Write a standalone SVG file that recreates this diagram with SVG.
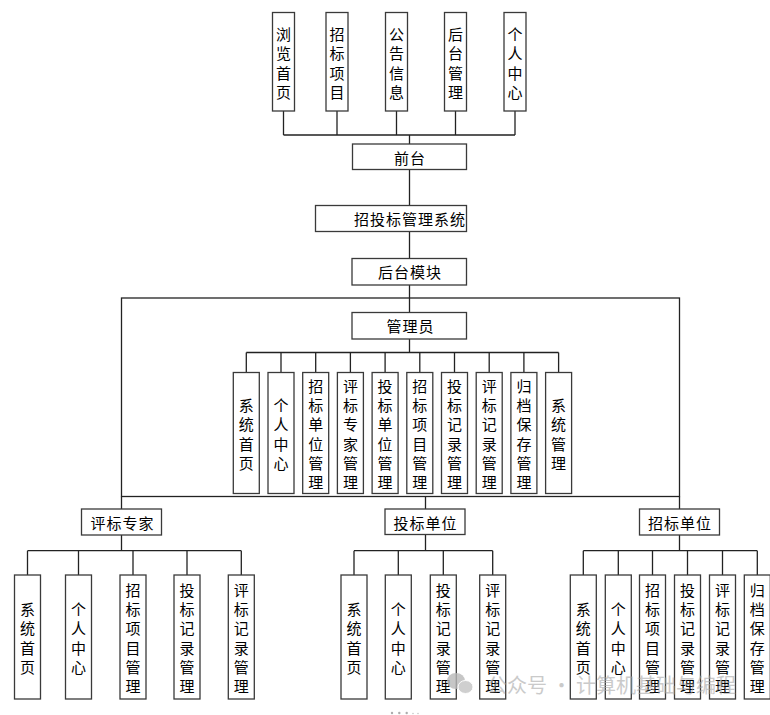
<svg xmlns="http://www.w3.org/2000/svg" width="770" height="715" viewBox="0 0 770 715">
<style>
.box{fill:#fff;stroke:#3a3a3a;stroke-width:1.3}
.lbl{font-family:"Noto Sans CJK SC","Noto Sans",sans-serif;font-size:15px;fill:#000;text-anchor:middle;dominant-baseline:central}
.h{letter-spacing:1px}
.conn{stroke:#222;stroke-width:1.3;fill:none}
.wm{font-family:"Noto Sans CJK SC","Noto Sans",sans-serif;font-size:20px;fill:#a8a8a8;opacity:0.75;dominant-baseline:central}
</style>
<rect width="770" height="715" fill="#fff"/>
<g id="connectors">
<path class="conn" d="M283.5 111V135M337 111V135M396.5 111V135M455.5 111V135M515 111V135M283.5 135H515M409.5 135V144"/>
<path class="conn" d="M409.5 169.5V205.5M409.5 231.5V258.5M409.5 285V298"/>
<rect class="conn" x="121.5" y="298" width="558" height="198.5"/>
<path class="conn" d="M409.5 298V312.5M409.5 339V352.5M246.3 352.5H558.6"/>
<path class="conn" d="M246.3 352.5V372.5M281 352.5V372.5M315.7 352.5V372.5M350.4 352.5V372.5M385.1 352.5V372.5M419.8 352.5V372.5M454.5 352.5V372.5M489.2 352.5V372.5M523.9 352.5V372.5M558.6 352.5V372.5"/>
<path class="conn" d="M121.5 496.5V509M425.5 496.5V509M679.5 496.5V509"/>
<path class="conn" d="M121.5 535V550.7M27.5 550.7H241.3M27.5 550.7V575M78.5 550.7V575M133 550.7V575M187 550.7V575M241.3 550.7V575"/>
<path class="conn" d="M425.5 534.5V550.7M354 550.7H492.7M354 550.7V575M398.3 550.7V575M443.3 550.7V575M492.7 550.7V575"/>
<path class="conn" d="M679.5 535V550.7M583.3 550.7H757.3M583.3 550.7V575M618.3 550.7V575M652.5 550.7V575M687.5 550.7V575M722.5 550.7V575M757.3 550.7V575"/>
</g>
<g id="n-liulan"><rect class="box" x="272.5" y="12.5" width="22" height="98.5"/><text class="lbl"><tspan x="283.5" y="32.5">浏</tspan><tspan x="283.5" y="52">览</tspan><tspan x="283.5" y="71.5">首</tspan><tspan x="283.5" y="91">页</tspan></text></g>
<g id="n-zbxm"><rect class="box" x="326" y="12.5" width="22" height="98.5"/><text class="lbl"><tspan x="337" y="32.5">招</tspan><tspan x="337" y="52">标</tspan><tspan x="337" y="71.5">项</tspan><tspan x="337" y="91">目</tspan></text></g>
<g id="n-ggxx"><rect class="box" x="385.5" y="12.5" width="22" height="98.5"/><text class="lbl"><tspan x="396.5" y="32.5">公</tspan><tspan x="396.5" y="52">告</tspan><tspan x="396.5" y="71.5">信</tspan><tspan x="396.5" y="91">息</tspan></text></g>
<g id="n-htgl"><rect class="box" x="444.5" y="12.5" width="22" height="98.5"/><text class="lbl"><tspan x="455.5" y="32.5">后</tspan><tspan x="455.5" y="52">台</tspan><tspan x="455.5" y="71.5">管</tspan><tspan x="455.5" y="91">理</tspan></text></g>
<g id="n-grzx"><rect class="box" x="504" y="12.5" width="22" height="98.5"/><text class="lbl"><tspan x="515" y="32.5">个</tspan><tspan x="515" y="52">人</tspan><tspan x="515" y="71.5">中</tspan><tspan x="515" y="91">心</tspan></text></g>
<g id="n-qiantai"><rect class="box" x="352.5" y="144" width="114" height="25.5"/><text class="lbl h" x="410" y="157">前台</text></g>
<g id="n-system"><rect class="box" x="315.5" y="205.5" width="151" height="26"/><text class="lbl h" x="410" y="218.5">招投标管理系统</text></g>
<g id="n-houtai"><rect class="box" x="352" y="258.5" width="114.5" height="26.5"/><text class="lbl h" x="410" y="271.7">后台模块</text></g>
<g id="n-admin"><rect class="box" x="352" y="312.5" width="114.5" height="26.5"/><text class="lbl h" x="410.5" y="325.7">管理员</text></g>
<g id="a1"><rect class="box" x="233.3" y="372.5" width="26" height="121"/><text class="lbl"><tspan x="246.3" y="404.1">系</tspan><tspan x="246.3" y="423.4">统</tspan><tspan x="246.3" y="442.7">首</tspan><tspan x="246.3" y="462">页</tspan></text></g>
<g id="a2"><rect class="box" x="268" y="372.5" width="26" height="121"/><text class="lbl"><tspan x="281" y="404.1">个</tspan><tspan x="281" y="423.4">人</tspan><tspan x="281" y="442.7">中</tspan><tspan x="281" y="462">心</tspan></text></g>
<g id="a3"><rect class="box" x="302.7" y="372.5" width="26" height="121"/><text class="lbl"><tspan x="315.7" y="384.8">招</tspan><tspan x="315.7" y="404.1">标</tspan><tspan x="315.7" y="423.4">单</tspan><tspan x="315.7" y="442.7">位</tspan><tspan x="315.7" y="462">管</tspan><tspan x="315.7" y="481.3">理</tspan></text></g>
<g id="a4"><rect class="box" x="337.4" y="372.5" width="26" height="121"/><text class="lbl"><tspan x="350.4" y="384.8">评</tspan><tspan x="350.4" y="404.1">标</tspan><tspan x="350.4" y="423.4">专</tspan><tspan x="350.4" y="442.7">家</tspan><tspan x="350.4" y="462">管</tspan><tspan x="350.4" y="481.3">理</tspan></text></g>
<g id="a5"><rect class="box" x="372.1" y="372.5" width="26" height="121"/><text class="lbl"><tspan x="385.1" y="384.8">投</tspan><tspan x="385.1" y="404.1">标</tspan><tspan x="385.1" y="423.4">单</tspan><tspan x="385.1" y="442.7">位</tspan><tspan x="385.1" y="462">管</tspan><tspan x="385.1" y="481.3">理</tspan></text></g>
<g id="a6"><rect class="box" x="406.8" y="372.5" width="26" height="121"/><text class="lbl"><tspan x="419.8" y="384.8">招</tspan><tspan x="419.8" y="404.1">标</tspan><tspan x="419.8" y="423.4">项</tspan><tspan x="419.8" y="442.7">目</tspan><tspan x="419.8" y="462">管</tspan><tspan x="419.8" y="481.3">理</tspan></text></g>
<g id="a7"><rect class="box" x="441.5" y="372.5" width="26" height="121"/><text class="lbl"><tspan x="454.5" y="384.8">投</tspan><tspan x="454.5" y="404.1">标</tspan><tspan x="454.5" y="423.4">记</tspan><tspan x="454.5" y="442.7">录</tspan><tspan x="454.5" y="462">管</tspan><tspan x="454.5" y="481.3">理</tspan></text></g>
<g id="a8"><rect class="box" x="476.2" y="372.5" width="26" height="121"/><text class="lbl"><tspan x="489.2" y="384.8">评</tspan><tspan x="489.2" y="404.1">标</tspan><tspan x="489.2" y="423.4">记</tspan><tspan x="489.2" y="442.7">录</tspan><tspan x="489.2" y="462">管</tspan><tspan x="489.2" y="481.3">理</tspan></text></g>
<g id="a9"><rect class="box" x="510.9" y="372.5" width="26" height="121"/><text class="lbl"><tspan x="523.9" y="384.8">归</tspan><tspan x="523.9" y="404.1">档</tspan><tspan x="523.9" y="423.4">保</tspan><tspan x="523.9" y="442.7">存</tspan><tspan x="523.9" y="462">管</tspan><tspan x="523.9" y="481.3">理</tspan></text></g>
<g id="a10"><rect class="box" x="545.6" y="372.5" width="26" height="121"/><text class="lbl"><tspan x="558.6" y="404.1">系</tspan><tspan x="558.6" y="423.4">统</tspan><tspan x="558.6" y="442.7">管</tspan><tspan x="558.6" y="462">理</tspan></text></g>
<g id="n-expert"><rect class="box" x="81.5" y="509" width="80" height="26"/><text class="lbl h" x="122.5" y="522">评标专家</text></g>
<g id="n-bidder"><rect class="box" x="385" y="509" width="80" height="25.5"/><text class="lbl h" x="425.5" y="522">投标单位</text></g>
<g id="n-tenderer"><rect class="box" x="639.5" y="509" width="80" height="26"/><text class="lbl h" x="680" y="522">招标单位</text></g>
<g id="e1"><rect class="box" x="14.5" y="575" width="26" height="124"/><text class="lbl"><tspan x="27.5" y="608">系</tspan><tspan x="27.5" y="627.3">统</tspan><tspan x="27.5" y="646.6">首</tspan><tspan x="27.5" y="665.9">页</tspan></text></g>
<g id="e2"><rect class="box" x="65.5" y="575" width="26" height="124"/><text class="lbl"><tspan x="78.5" y="608">个</tspan><tspan x="78.5" y="627.3">人</tspan><tspan x="78.5" y="646.6">中</tspan><tspan x="78.5" y="665.9">心</tspan></text></g>
<g id="e3"><rect class="box" x="120" y="575" width="26" height="124"/><text class="lbl"><tspan x="133" y="588.7">招</tspan><tspan x="133" y="608">标</tspan><tspan x="133" y="627.3">项</tspan><tspan x="133" y="646.6">目</tspan><tspan x="133" y="665.9">管</tspan><tspan x="133" y="685.2">理</tspan></text></g>
<g id="e4"><rect class="box" x="174" y="575" width="26" height="124"/><text class="lbl"><tspan x="187" y="588.7">投</tspan><tspan x="187" y="608">标</tspan><tspan x="187" y="627.3">记</tspan><tspan x="187" y="646.6">录</tspan><tspan x="187" y="665.9">管</tspan><tspan x="187" y="685.2">理</tspan></text></g>
<g id="e5"><rect class="box" x="228.3" y="575" width="26" height="124"/><text class="lbl"><tspan x="241.3" y="588.7">评</tspan><tspan x="241.3" y="608">标</tspan><tspan x="241.3" y="627.3">记</tspan><tspan x="241.3" y="646.6">录</tspan><tspan x="241.3" y="665.9">管</tspan><tspan x="241.3" y="685.2">理</tspan></text></g>
<g id="b1"><rect class="box" x="341" y="575" width="26" height="124"/><text class="lbl"><tspan x="354" y="608">系</tspan><tspan x="354" y="627.3">统</tspan><tspan x="354" y="646.6">首</tspan><tspan x="354" y="665.9">页</tspan></text></g>
<g id="b2"><rect class="box" x="385.3" y="575" width="26" height="124"/><text class="lbl"><tspan x="398.3" y="608">个</tspan><tspan x="398.3" y="627.3">人</tspan><tspan x="398.3" y="646.6">中</tspan><tspan x="398.3" y="665.9">心</tspan></text></g>
<g id="b3"><rect class="box" x="430.3" y="575" width="26" height="124"/><text class="lbl"><tspan x="443.3" y="588.7">投</tspan><tspan x="443.3" y="608">标</tspan><tspan x="443.3" y="627.3">记</tspan><tspan x="443.3" y="646.6">录</tspan><tspan x="443.3" y="665.9">管</tspan><tspan x="443.3" y="685.2">理</tspan></text></g>
<g id="b4"><rect class="box" x="479.7" y="575" width="26" height="124"/><text class="lbl"><tspan x="492.7" y="588.7">评</tspan><tspan x="492.7" y="608">标</tspan><tspan x="492.7" y="627.3">记</tspan><tspan x="492.7" y="646.6">录</tspan><tspan x="492.7" y="665.9">管</tspan><tspan x="492.7" y="685.2">理</tspan></text></g>
<g id="t1"><rect class="box" x="570.3" y="575" width="26" height="124"/><text class="lbl"><tspan x="583.3" y="608">系</tspan><tspan x="583.3" y="627.3">统</tspan><tspan x="583.3" y="646.6">首</tspan><tspan x="583.3" y="665.9">页</tspan></text></g>
<g id="t2"><rect class="box" x="605.3" y="575" width="26" height="124"/><text class="lbl"><tspan x="618.3" y="608">个</tspan><tspan x="618.3" y="627.3">人</tspan><tspan x="618.3" y="646.6">中</tspan><tspan x="618.3" y="665.9">心</tspan></text></g>
<g id="t3"><rect class="box" x="639.5" y="575" width="26" height="124"/><text class="lbl"><tspan x="652.5" y="588.7">招</tspan><tspan x="652.5" y="608">标</tspan><tspan x="652.5" y="627.3">项</tspan><tspan x="652.5" y="646.6">目</tspan><tspan x="652.5" y="665.9">管</tspan><tspan x="652.5" y="685.2">理</tspan></text></g>
<g id="t4"><rect class="box" x="674.5" y="575" width="26" height="124"/><text class="lbl"><tspan x="687.5" y="588.7">投</tspan><tspan x="687.5" y="608">标</tspan><tspan x="687.5" y="627.3">记</tspan><tspan x="687.5" y="646.6">录</tspan><tspan x="687.5" y="665.9">管</tspan><tspan x="687.5" y="685.2">理</tspan></text></g>
<g id="t5"><rect class="box" x="709.5" y="575" width="26" height="124"/><text class="lbl"><tspan x="722.5" y="588.7">评</tspan><tspan x="722.5" y="608">标</tspan><tspan x="722.5" y="627.3">记</tspan><tspan x="722.5" y="646.6">录</tspan><tspan x="722.5" y="665.9">管</tspan><tspan x="722.5" y="685.2">理</tspan></text></g>
<g id="t6"><rect class="box" x="744.3" y="575" width="26" height="124"/><text class="lbl"><tspan x="757.3" y="588.7">归</tspan><tspan x="757.3" y="608">档</tspan><tspan x="757.3" y="627.3">保</tspan><tspan x="757.3" y="646.6">存</tspan><tspan x="757.3" y="665.9">管</tspan><tspan x="757.3" y="685.2">理</tspan></text></g>
<g id="watermark" opacity="0.8">
<ellipse cx="456" cy="681" rx="9" ry="8" fill="#b8b8b8"/>
<ellipse cx="465.5" cy="687" rx="7.5" ry="6.5" fill="#c4c4c4" stroke="#fff" stroke-width="1"/>
<text class="wm" x="487" y="684">公众号 · 计算机基础与编程</text>
<circle cx="392" cy="713" r="1.2" fill="#999"/><circle cx="399.3" cy="713" r="1.2" fill="#999"/><circle cx="406.7" cy="713" r="1.2" fill="#999"/><circle cx="413" cy="713.5" r="0.7" fill="#aaa"/><circle cx="418" cy="713.5" r="0.7" fill="#aaa"/>
</g>
</svg>
